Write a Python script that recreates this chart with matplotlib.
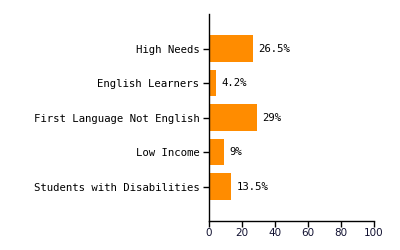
import matplotlib

matplotlib.use("Agg")
import matplotlib.pyplot as plt

categories = ["High Needs", "English Learners", "First Language Not English",
              "Low Income", "Students with Disabilities"]
values = [26.5, 4.2, 29, 9, 13.5]
labels = ["26.5%", "4.2%", "29%", "9%", "13.5%"]
xticks = [0, 20, 40, 60, 80, 100]

FONT = "DejaVu Sans Mono"
ORANGE = "#ff8c00"

fig = plt.figure(figsize=(4, 2.5), dpi=100)
ax = fig.add_axes([0.5225, 0.116, 0.4125, 0.828])

pos = list(range(len(categories)))
ax.barh(pos, values, height=0.78, color=ORANGE)
for p, v, lab in zip(pos, values, labels):
    ax.text(v + 3.5, p, lab, va="center", ha="left", fontsize=7.7,
            family=FONT, color="black")

ax.set_xlim(0, 100)
ax.set_ylim(len(categories), -1)
ax.set_yticks(pos)
ax.set_yticklabels(categories, family=FONT, fontsize=7.7)
ax.set_xticks(xticks)
ax.set_xticklabels([str(t) for t in xticks], family="DejaVu Sans",
                   fontsize=7.5, color="#101030")

for s in ("top", "right"):
    ax.spines[s].set_visible(False)
ax.spines["left"].set_linewidth(1)
ax.spines["bottom"].set_linewidth(1)
ax.tick_params(axis="y", length=4, width=1, pad=3)
ax.tick_params(axis="x", length=4, width=1, pad=1)

fig.savefig("out.png", dpi=100)
